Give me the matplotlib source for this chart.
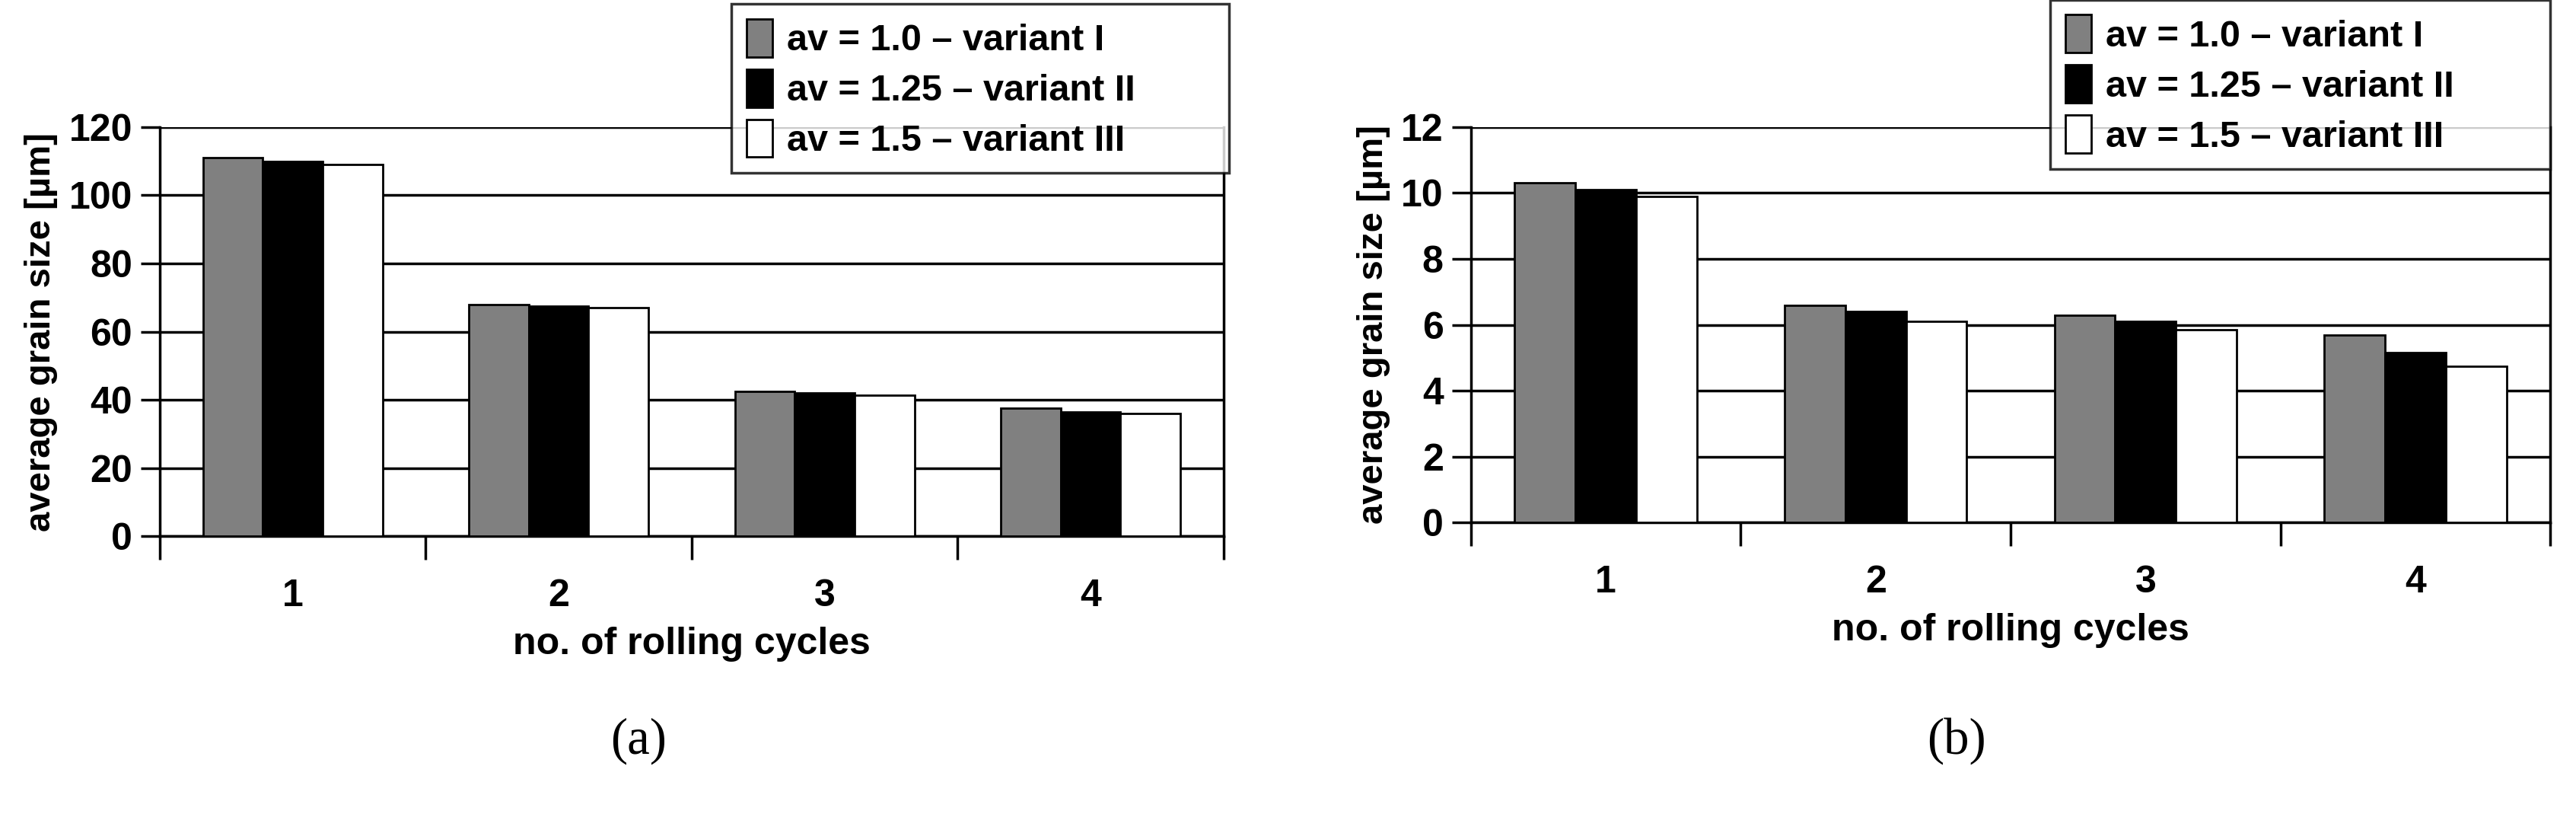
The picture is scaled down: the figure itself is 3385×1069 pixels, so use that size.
import numpy as np
import matplotlib.pyplot as plt
from matplotlib.patches import Patch

cycles = ['1', '2', '3', '4']
labels = ['av = 1.0 \u2013 variant I', 'av = 1.25 \u2013 variant II', 'av = 1.5 \u2013 variant III']
colors = ['#808080', '#000000', '#ffffff']

a_v1 = [111, 68, 42.5, 37.5]
a_v2 = [110, 67.5, 42, 36.5]
a_v3 = [109, 67, 41.5, 36]

b_v1 = [10.3, 6.6, 6.3, 5.7]
b_v2 = [10.1, 6.4, 6.1, 5.15]
b_v3 = [9.9, 6.1, 5.85, 4.75]

plt.rcParams['font.family'] = ['Liberation Sans', 'DejaVu Sans']
plt.rcParams['font.weight'] = 'bold'
plt.rcParams['axes.labelweight'] = 'bold'

fig = plt.figure(figsize=(33.85, 10.69), dpi=100)


def panel(rect, series, ymax, step, caption, leg_rect):
    ax = fig.add_axes(rect)
    x = np.arange(len(cycles))
    w = 0.225
    for i, (vals, c) in enumerate(zip(series, colors)):
        ax.bar(x + (i - 1) * w, vals, w, color=c, edgecolor='black', linewidth=2, zorder=3)
    ax.set_xlim(-0.5, len(cycles) - 0.5)
    ax.set_ylim(0, ymax)
    ax.set_yticks(np.arange(0, ymax + step / 2, step))
    ax.yaxis.grid(True, color='black', linewidth=2.5, zorder=0)
    ax.set_xticks(np.arange(-0.5, len(cycles)), minor=False)
    ax.set_xticklabels([])
    ax.set_xticks(x, minor=True)
    ax.set_xticklabels(cycles, minor=True, fontweight='bold')
    ax.tick_params(axis='x', which='major', length=22, width=2.5, direction='out')
    ax.tick_params(axis='x', which='minor', length=0, pad=40, labelsize=36)
    ax.tick_params(axis='y', length=18, width=2.5, labelsize=36, pad=8)
    for t in ax.get_yticklabels():
        t.set_fontweight('bold')
    for s in ['left', 'bottom', 'right']:
        ax.spines[s].set_linewidth(2.5)
    ax.spines['top'].set_visible(False)
    ax.set_xlabel('no. of rolling cycles', fontsize=36, labelpad=12, fontweight='bold')
    ax.set_ylabel('average grain size [\u00b5m]', fontsize=34, labelpad=10, fontweight='bold')
    handles = [Patch(facecolor=c, edgecolor='black', linewidth=2) for c in colors]
    leg = fig.legend(handles, labels, loc='upper left', bbox_to_anchor=leg_rect,
                     mode='expand', prop={'size': 35, 'weight': 'bold'}, frameon=True,
                     fancybox=False, edgecolor='black', handlelength=0.7, handleheight=1.2,
                     handletextpad=0.4, labelspacing=0.3, borderaxespad=0)
    leg.get_frame().set_linewidth(2.5)
    leg.set_zorder(5)
    fig.text(rect[0] + rect[2] * 0.45, 0.09, caption, ha='center', va='center',
             fontsize=48, fontweight='normal', family='Liberation Serif')
    return ax


panel([0.062, 0.341, 0.413, 0.503], [a_v1, a_v2, a_v3], 120, 20, '(a)',
      (0.284, 0.745, 0.193, 0.25))
panel([0.571, 0.358, 0.419, 0.486], [b_v1, b_v2, b_v3], 12, 2, '(b)',
      (0.796, 0.78, 0.194, 0.22))

fig.savefig('out.png', dpi=100)
